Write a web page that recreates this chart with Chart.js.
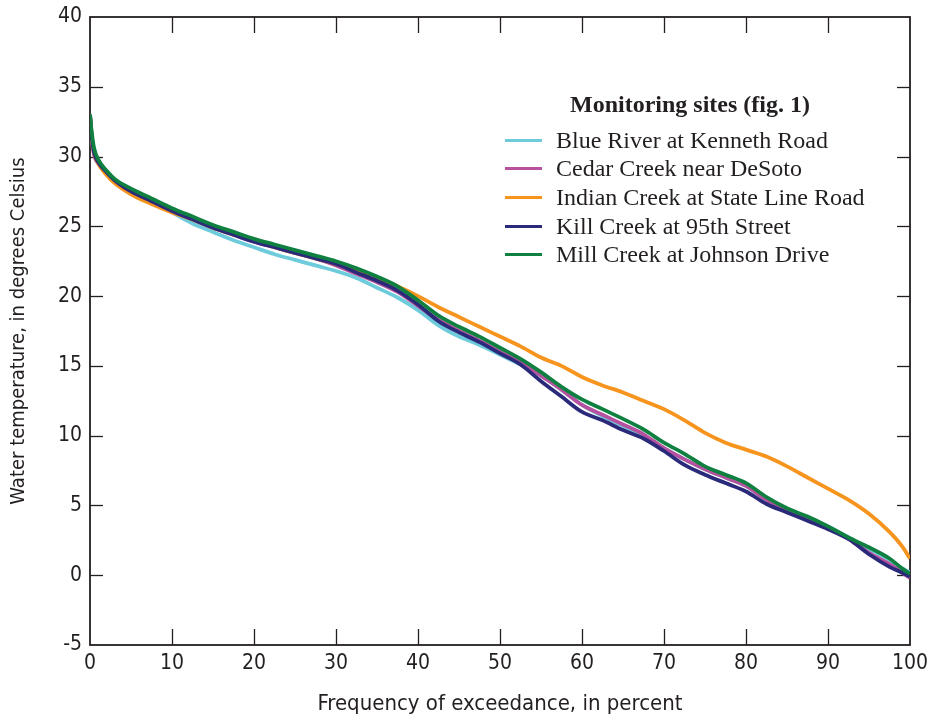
<!DOCTYPE html>
<html>
<head>
<meta charset="utf-8">
<script src="https://cdn.jsdelivr.net/npm/chart.js@4"></script>
<style>
  html, body { margin: 0; padding: 0; background: #fff; }
  #wrap { position: relative; width: 927px; height: 722px; }
  #legend { position: absolute; left: 505px; top: 89px; font-family: 'Liberation Serif', 'Times New Roman', serif; color: #231f20; }
  #legend .ttl { font-weight: bold; font-size: 24px; text-align: center; width: 370px; line-height: 30px; margin-bottom: 7px; }
  #legend .row { display: flex; align-items: center; height: 28.6px; font-size: 24px; white-space: nowrap; }
  #legend .sw { width: 37px; height: 3px; margin-right: 14px; flex: none; }
</style>
</head>
<body>
<div id="wrap">
  <canvas id="c" width="927" height="722"></canvas>
  <div id="legend"></div>
</div>
<script>
// Frequency of exceedance, percent
const exceedance = [0, 0.2, 0.5, 1, 2, 3, 5, 7.5, 10, 12.5, 15, 17.5, 20, 22.5, 25, 27.5, 30, 32.5, 35, 37.5, 40, 42.5, 45, 47.5, 50, 52.5, 55, 57.5, 60, 62.5, 65, 67.5, 70, 72.5, 75, 77.5, 80, 82.5, 85, 87.5, 90, 92.5, 95, 97.5, 99, 100];

// Water temperature, degrees Celsius
const blueRiver   = [33.0, 31.5, 30.3, 29.6, 28.9, 28.3, 27.5, 26.8, 26.0, 25.2, 24.6, 24.0, 23.5, 23.0, 22.6, 22.2, 21.8, 21.3, 20.6, 19.9, 19.0, 17.9, 17.1, 16.5, 15.8, 15.1, 14.3, 13.3, 12.2, 11.4, 10.7, 10.0, 9.1, 8.3, 7.6, 7.0, 6.4, 5.4, 4.7, 4.1, 3.5, 2.7, 1.9, 1.1, 0.5, 0.2];
const cedarCreek  = [33.0, 31.3, 30.1, 29.5, 28.8, 28.2, 27.5, 26.8, 26.1, 25.5, 24.9, 24.4, 23.9, 23.5, 23.1, 22.7, 22.2, 21.6, 21.0, 20.3, 19.3, 18.3, 17.5, 16.8, 16.0, 15.3, 14.3, 13.3, 12.2, 11.5, 10.8, 10.1, 9.1, 8.3, 7.6, 7.0, 6.4, 5.4, 4.7, 4.0, 3.4, 2.6, 1.6, 0.8, 0.2, -0.2];
const indianCreek = [33.0, 31.5, 30.3, 29.5, 28.7, 28.1, 27.3, 26.6, 26.0, 25.5, 24.9, 24.4, 24.0, 23.5, 23.1, 22.7, 22.3, 21.8, 21.3, 20.7, 20.0, 19.2, 18.5, 17.8, 17.1, 16.4, 15.6, 15.0, 14.2, 13.6, 13.1, 12.5, 11.9, 11.1, 10.2, 9.5, 9.0, 8.5, 7.8, 7.0, 6.2, 5.4, 4.4, 3.1, 2.1, 1.2];
const killCreek   = [33.0, 31.5, 30.3, 29.6, 28.9, 28.3, 27.5, 26.8, 26.1, 25.5, 24.9, 24.4, 23.9, 23.5, 23.1, 22.7, 22.3, 21.7, 21.1, 20.4, 19.4, 18.2, 17.4, 16.7, 15.9, 15.1, 13.9, 12.8, 11.7, 11.1, 10.4, 9.8, 8.9, 7.9, 7.2, 6.6, 6.0, 5.1, 4.5, 3.9, 3.3, 2.6, 1.5, 0.6, 0.2, -0.1];
const millCreek   = [33.0, 31.8, 30.6, 29.8, 29.0, 28.4, 27.7, 27.0, 26.3, 25.7, 25.1, 24.6, 24.1, 23.7, 23.3, 22.9, 22.5, 22.0, 21.4, 20.7, 19.7, 18.6, 17.8, 17.1, 16.3, 15.5, 14.55, 13.5, 12.6, 11.9, 11.2, 10.45, 9.5, 8.7, 7.8, 7.2, 6.6, 5.6, 4.8, 4.2, 3.5, 2.7, 2.0, 1.2, 0.5, 0.1];

const siteNames = ['Blue River at Kenneth Road', 'Cedar Creek near DeSoto', 'Indian Creek at State Line Road', 'Kill Creek at 95th Street', 'Mill Creek at Johnson Drive'];
const siteColors = ['#6dcbdc', '#b5519e', '#f7941d', '#2b2a7a', '#0f8040'];
const siteValues = [blueRiver, cedarCreek, indianCreek, killCreek, millCreek];

const xTickValues = [0, 10, 20, 30, 40, 50, 60, 70, 80, 90, 100];
const yTickValues = [-5, 0, 5, 10, 15, 20, 25, 30, 35, 40];

const ink = '#231f20';
const narrow = "'Liberation Sans Narrow', 'DejaVu Sans Condensed', 'Arial Narrow', sans-serif";

const frameTicks = {
  id: 'frameTicks',
  beforeDatasetsDraw(chart) {
    const { ctx, chartArea: { left, right, top, bottom }, scales: { x, y } } = chart;
    ctx.save();
    ctx.strokeStyle = ink;
    ctx.lineWidth = 1.3;
    const seg = (a, b, c, d) => { ctx.beginPath(); ctx.moveTo(a, b); ctx.lineTo(c, d); ctx.stroke(); };
    x.ticks.forEach(t => {
      if (t.value <= x.min || t.value >= x.max) return;
      const px = Math.round(x.getPixelForValue(t.value)) + 0.5;
      seg(px, bottom, px, bottom - 16);
      seg(px, top, px, top + 16);
    });
    y.ticks.forEach(t => {
      if (t.value <= y.min || t.value >= y.max) return;
      const py = Math.round(y.getPixelForValue(t.value)) + 0.5;
      seg(left, py, left + 13, py);
      seg(right, py, right - 13, py);
    });
    ctx.lineWidth = 1.8;
    ctx.strokeRect(left, top, right - left, bottom - top);
    ctx.restore();
  }
};

const datasets = siteNames.map((name, i) => ({
  label: name,
  data: exceedance.map((xv, j) => ({ x: xv, y: siteValues[i][j] })),
  borderColor: siteColors[i],
  backgroundColor: siteColors[i],
  borderWidth: 3.8,
  pointRadius: 0,
  fill: false,
  cubicInterpolationMode: 'monotone',
  order: 5 - i
}));

new Chart(document.getElementById('c'), {
  type: 'line',
  data: { datasets },
  options: {
    responsive: false,
    devicePixelRatio: 1,
    animation: false,
    layout: { padding: { top: 17, right: 17, left: 0, bottom: 0 } },
    plugins: { legend: { display: false }, tooltip: { enabled: false } },
    scales: {
      x: {
        type: 'linear', min: 0, max: 100,
        afterBuildTicks: s => { s.ticks = xTickValues.map(v => ({ value: v })); },
        afterFit: s => { s.height = 77; s.paddingLeft = 0; s.paddingRight = 0; },
        grid: { display: false, drawTicks: false },
        border: { display: false },
        ticks: { padding: 6, color: ink, font: { family: narrow, size: 21 }, maxRotation: 0, autoSkip: false },
        title: { display: true, text: 'Frequency of exceedance, in percent', color: ink, font: { family: narrow, size: 22 }, padding: { top: 0, bottom: 5 } }
      },
      y: {
        type: 'linear', min: -5, max: 40,
        afterBuildTicks: s => { s.ticks = yTickValues.map(v => ({ value: v })); },
        afterFit: s => { s.width = 90; s.paddingTop = 0; s.paddingBottom = 0; },
        grid: { display: false, drawTicks: false },
        border: { display: false },
        ticks: { padding: 8, color: ink, font: { family: narrow, size: 21 }, autoSkip: false },
        title: { display: true, text: 'Water temperature, in degrees Celsius', color: ink, font: { family: narrow, size: 20 }, padding: { top: 7, bottom: 0 } }
      }
    }
  },
  plugins: [frameTicks]
});

const lg = document.getElementById('legend');
const ttl = document.createElement('div');
ttl.className = 'ttl';
ttl.textContent = 'Monitoring sites (fig. 1)';
lg.appendChild(ttl);
siteNames.forEach((name, i) => {
  const row = document.createElement('div');
  row.className = 'row';
  const sw = document.createElement('span');
  sw.className = 'sw';
  sw.style.background = siteColors[i];
  const tx = document.createElement('span');
  tx.textContent = name;
  row.appendChild(sw);
  row.appendChild(tx);
  lg.appendChild(row);
});
</script>
</body>
</html>
